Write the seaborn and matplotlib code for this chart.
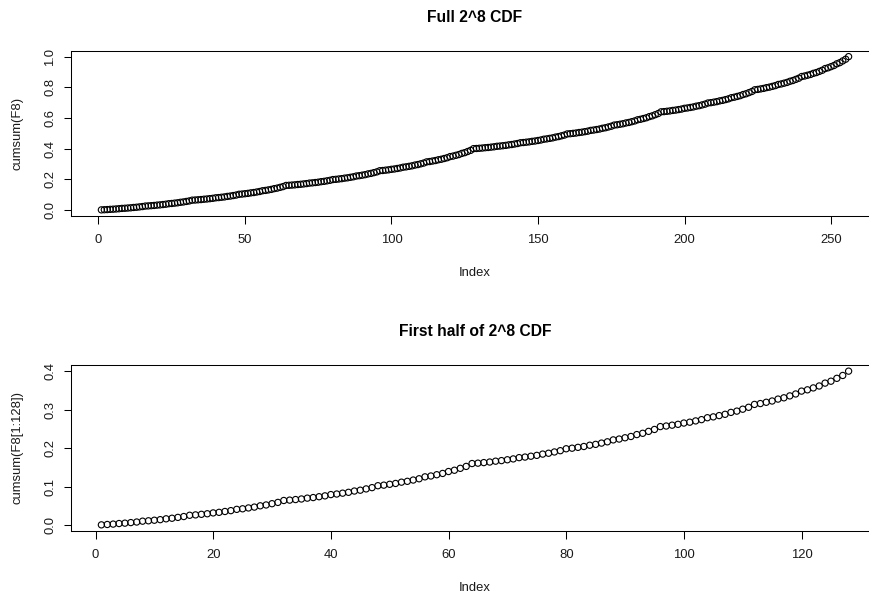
import numpy as np
import pandas as pd
import matplotlib
matplotlib.use("Agg")
import matplotlib.pyplot as plt
import seaborn as sns

# Per-index probabilities F8 (256 values)
F8 = [
    0.00066, 0.00098, 0.00098, 0.00147, 0.00098, 0.00147, 0.00147, 0.00221, 0.00098, 0.00147, 0.00147, 0.00221, 0.00147, 0.00221, 0.00221, 0.00332,
    0.00098, 0.00147, 0.00147, 0.00221, 0.00147, 0.00221, 0.00221, 0.00332, 0.00147, 0.00221, 0.00221, 0.00332, 0.00221, 0.00332, 0.00332, 0.00498,
    0.00098, 0.00147, 0.00147, 0.00221, 0.00147, 0.00221, 0.00221, 0.00332, 0.00147, 0.00221, 0.00221, 0.00332, 0.00221, 0.00332, 0.00332, 0.00498,
    0.00147, 0.00221, 0.00221, 0.00332, 0.00221, 0.00332, 0.00332, 0.00498, 0.00221, 0.00332, 0.00332, 0.00498, 0.00332, 0.00498, 0.00498, 0.00746,
    0.00098, 0.00147, 0.00147, 0.00221, 0.00147, 0.00221, 0.00221, 0.00332, 0.00147, 0.00221, 0.00221, 0.00332, 0.00221, 0.00332, 0.00332, 0.00498,
    0.00147, 0.00221, 0.00221, 0.00332, 0.00221, 0.00332, 0.00332, 0.00498, 0.00221, 0.00332, 0.00332, 0.00498, 0.00332, 0.00498, 0.00498, 0.00746,
    0.00147, 0.00221, 0.00221, 0.00332, 0.00221, 0.00332, 0.00332, 0.00498, 0.00221, 0.00332, 0.00332, 0.00498, 0.00332, 0.00498, 0.00498, 0.00746,
    0.00221, 0.00332, 0.00332, 0.00498, 0.00332, 0.00498, 0.00498, 0.00746, 0.00332, 0.00498, 0.00498, 0.00746, 0.00498, 0.00746, 0.00746, 0.01120,
    0.00098, 0.00147, 0.00147, 0.00221, 0.00147, 0.00221, 0.00221, 0.00332, 0.00147, 0.00221, 0.00221, 0.00332, 0.00221, 0.00332, 0.00332, 0.00498,
    0.00147, 0.00221, 0.00221, 0.00332, 0.00221, 0.00332, 0.00332, 0.00498, 0.00221, 0.00332, 0.00332, 0.00498, 0.00332, 0.00498, 0.00498, 0.00746,
    0.00147, 0.00221, 0.00221, 0.00332, 0.00221, 0.00332, 0.00332, 0.00498, 0.00221, 0.00332, 0.00332, 0.00498, 0.00332, 0.00498, 0.00498, 0.00746,
    0.00221, 0.00332, 0.00332, 0.00498, 0.00332, 0.00498, 0.00498, 0.00746, 0.00332, 0.00498, 0.00498, 0.00746, 0.00498, 0.00746, 0.00746, 0.01120,
    0.00147, 0.00221, 0.00221, 0.00332, 0.00221, 0.00332, 0.00332, 0.00498, 0.00221, 0.00332, 0.00332, 0.00498, 0.00332, 0.00498, 0.00498, 0.00746,
    0.00221, 0.00332, 0.00332, 0.00498, 0.00332, 0.00498, 0.00498, 0.00746, 0.00332, 0.00498, 0.00498, 0.00746, 0.00498, 0.00746, 0.00746, 0.01120,
    0.00221, 0.00332, 0.00332, 0.00498, 0.00332, 0.00498, 0.00498, 0.00746, 0.00332, 0.00498, 0.00498, 0.00746, 0.00498, 0.00746, 0.00746, 0.01120,
    0.00332, 0.00498, 0.00498, 0.00746, 0.00498, 0.00746, 0.00746, 0.01120, 0.00498, 0.00746, 0.00746, 0.01120, 0.00746, 0.01120, 0.01120, 0.01680,
]

titles = ["Full 2^8 CDF", "First half of 2^8 CDF"]
ylabels = ["cumsum(F8)", "cumsum(F8[1:128])"]
xlabel = "Index"
xticks_top = [0, 50, 100, 150, 200, 250]
yticks_top = [0.0, 0.2, 0.4, 0.6, 0.8, 1.0]
xticks_bot = [0, 20, 40, 60, 80, 100, 120]
yticks_bot = [0.0, 0.1, 0.2, 0.3, 0.4]

cum_full = np.cumsum(F8)
df_full = pd.DataFrame({"Index": np.arange(1, len(F8) + 1), "cum": cum_full})
df_half = pd.DataFrame({"Index": np.arange(1, 129), "cum": np.cumsum(F8[:128])})

sns.set_style("ticks")
plt.rcParams["font.family"] = ["Liberation Sans", "DejaVu Sans"]
plt.rcParams["axes.edgecolor"] = "black"
plt.rcParams["axes.linewidth"] = 0.75
plt.rcParams["text.color"] = "black"

W, H = 870, 595
fig = plt.figure(figsize=(W / 100, H / 100), dpi=100)
fig.patch.set_facecolor("white")

def fx(px):
    return px / W

def fy(py):
    return 1 - py / H

# axes boxes in pixel coords (left, top, right, bottom)
boxes = [(71.5, 50.5, 878.5, 216.0), (71.5, 365.0, 878.5, 531.0)]
dfs = [df_full, df_half]
xt = [xticks_top, xticks_bot]
yt = [yticks_top, yticks_bot]

FS = 9.4  # base font size in pt (13 px)

for k in range(2):
    l, t, r, b = boxes[k]
    ax = fig.add_axes([fx(l), fy(b), fx(r) - fx(l), fy(t) - fy(b)])
    d = dfs[k]
    sns.scatterplot(data=d, x="Index", y="cum", ax=ax, marker="o", s=20,
                    facecolors="none", edgecolors="black", linewidth=0.8)
    n = len(d)
    xr = n - 1
    ax.set_xlim(1 - 0.04 * xr, n + 0.04 * xr)
    ymin, ymax = d["cum"].min(), d["cum"].max()
    yr = ymax - ymin
    ax.set_ylim(ymin - 0.04 * yr, ymax + 0.04 * yr)
    ax.set_xticks(xt[k])
    ax.set_xticklabels([str(v) for v in xt[k]])
    ax.set_yticks(yt[k])
    ax.set_yticklabels([f"{v:.1f}" for v in yt[k]], rotation=90, va="center")
    ax.tick_params(axis="both", direction="out", length=5.4, width=0.75,
                   colors="black", labelsize=FS, labelcolor="#1a1a1a")
    ax.tick_params(axis="x", pad=7.5)
    ax.tick_params(axis="y", pad=5.5)
    for sp in ax.spines.values():
        sp.set_visible(True)
        sp.set_color("black")
        sp.set_linewidth(0.75)
    ax.set_xlabel(xlabel, fontsize=FS, va="center", color="#1a1a1a")
    ax.xaxis.set_label_coords(0.5, -57 / (b - t))
    ax.set_ylabel(ylabels[k], fontsize=FS, va="center", color="#1a1a1a")
    ax.yaxis.set_label_coords((18 - l) / (r - l), 0.5)
    ax.set_title(titles[k], fontsize=FS * 1.2, fontweight="bold", color="black",
                 y=1 + 33.5 / (b - t), va="center", pad=0)
    ax.grid(False)

fig.savefig("out.png", dpi=100, facecolor="white")
